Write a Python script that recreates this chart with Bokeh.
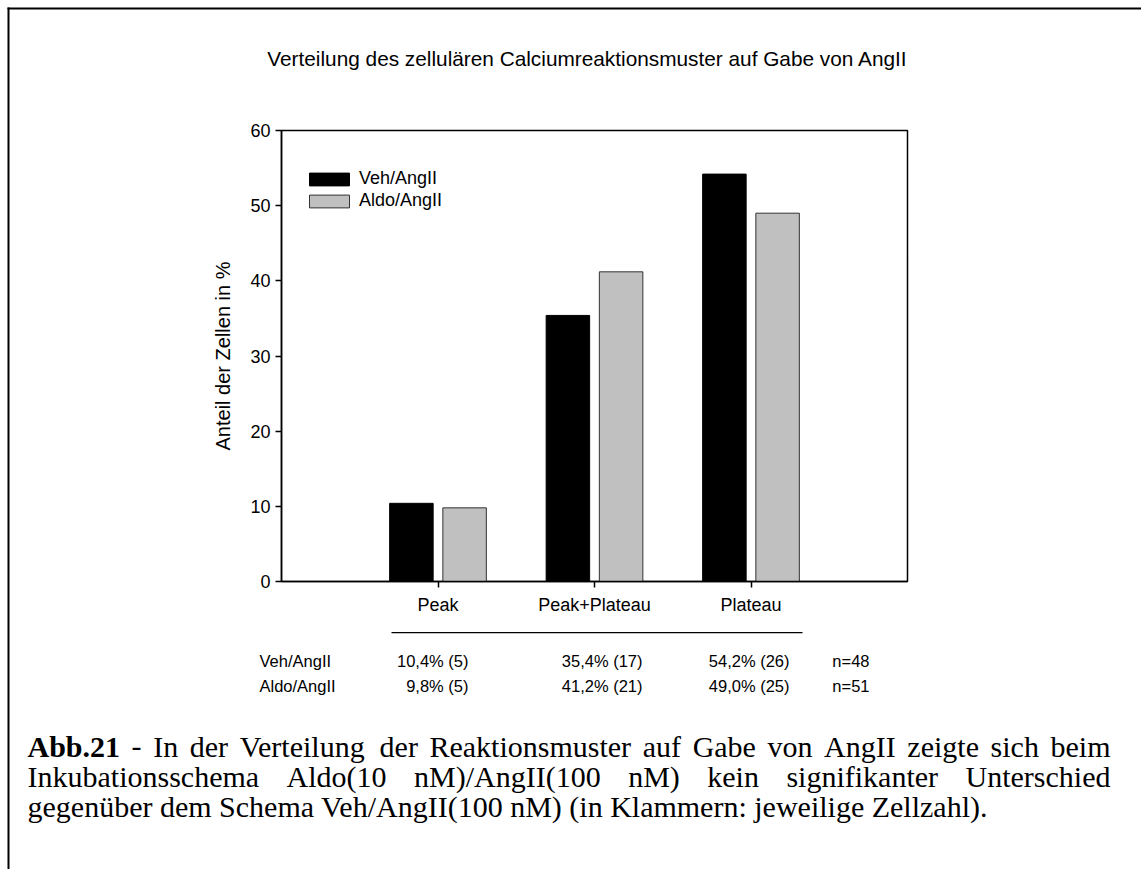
from bokeh.plotting import figure
from bokeh.models import Label, PolyAnnotation, FixedTicker, Range1d, LinearAxis
from bokeh.embed import file_html
from bokeh.resources import INLINE

# ---------------- data ----------------
categories = ["Peak", "Peak+Plateau", "Plateau"]
groups = ["Veh/AngII", "Aldo/AngII"]
veh_pct = [10.4, 35.4, 54.2]
aldo_pct = [9.8, 41.2, 49.0]
veh_cells = [5, 17, 26]
aldo_cells = [5, 21, 25]
totals = [48, 51]
y_ticks = [0, 10, 20, 30, 40, 50, 60]

title_text = "Verteilung des zellulären Calciumreaktionsmuster auf Gabe von AngII"
y_label = "Anteil der Zellen in %"
caption_bold = "Abb.21"
caption_line1 = "- In der Verteilung der Reaktionsmuster auf Gabe von AngII zeigte sich beim"
caption_line2 = "Inkubationsschema Aldo(10 nM)/AngII(100 nM) kein signifikanter Unterschied"
caption_line3 = "gegenüber dem Schema Veh/AngII(100 nM) (in Klammern: jeweilige Zellzahl)."

SANS = "Liberation Sans"
SERIF = "Liberation Serif"

W, H = 1141, 869
FL, FR, FT, FB = 281, 907, 130, 581   # chart box edges in px
XMAX, YMAX = 4, 60

def dx(px):
    return (px - FL) * XMAX / (FR - FL)

def dy(py):
    return (FB - py) * YMAX / (FB - FT)

p = figure(width=W, height=H, x_range=Range1d(dx(0), dx(W)), y_range=Range1d(dy(H), dy(0)),
           output_backend="svg", toolbar_location=None, title=None,
           x_axis_type=None, y_axis_type=None, min_border=0)
p.background_fill_color = "white"
p.border_fill_color = "white"
p.outline_line_color = None
p.grid.visible = False

# ---------------- chart box ----------------
p.quad(left=0, right=XMAX, bottom=0, top=YMAX, fill_color=None,
       line_color="black", line_width=1.5)

# ---------------- bars ----------------
xpos = [i + 1 for i in range(len(categories))]
off = 0.17
bw = 0.278
p.vbar(x=[x - off for x in xpos], top=veh_pct, width=bw, bottom=0,
       fill_color="black", line_color="black", line_width=1, legend_label=groups[0])
p.vbar(x=[x + off for x in xpos], top=aldo_pct, width=bw, bottom=0,
       fill_color="#c0c0c0", line_color="#333333", line_width=1, legend_label=groups[1])

# ---------------- axes ----------------
yax = LinearAxis(fixed_location=0, bounds=(0, YMAX), ticker=FixedTicker(ticks=y_ticks))
xax = LinearAxis(fixed_location=0, bounds=(0, XMAX), ticker=FixedTicker(ticks=xpos))
for ax in (xax, yax):
    ax.axis_line_width = 1.5
    ax.axis_line_color = "black"
    ax.major_tick_line_color = "black"
    ax.major_tick_line_width = 1.5
    ax.major_tick_out = 6
    ax.major_tick_in = 0
    ax.minor_tick_line_color = None
    ax.major_label_text_font = SANS
    ax.major_label_text_font_size = "18px"
    ax.major_label_text_color = "black"
yax.major_label_standoff = 5
yax.axis_label = y_label
yax.axis_label_text_font = SANS
yax.axis_label_text_font_size = "20px"
yax.axis_label_text_font_style = "normal"
yax.axis_label_text_color = "black"
yax.axis_label_standoff = 13
xax.major_label_overrides = {x: c for x, c in zip(xpos, categories)}
xax.major_label_standoff = 7
p.add_layout(yax, "left")
p.add_layout(xax, "below")

# ---------------- legend ----------------
lg = p.legend[0]
lg.location = (304, 658)
lg.padding = 0
lg.margin = 0
lg.spacing = 1
lg.glyph_width = 50
lg.glyph_height = 16
lg.label_standoff = 5
lg.label_text_font = SANS
lg.label_text_font_size = "18px"
lg.label_text_color = "black"
lg.border_line_alpha = 0
lg.background_fill_alpha = 0

# ---------------- title ----------------
p.add_layout(Label(x=dx(587), y=dy(58), text=title_text, text_align="center",
                   text_baseline="middle", text_font=SANS, text_font_size="20.8px",
                   text_color="black"))

# ---------------- table below the chart ----------------
p.add_layout(PolyAnnotation(xs=[dx(391), dx(802), dx(802), dx(391)],
                            ys=[dy(631.5), dy(631.5), dy(632.8), dy(632.8)],
                            fill_color="black", fill_alpha=1, line_alpha=0))

def fmt(v, c):
    return f"{v:.1f}".replace(".", ",") + f"% ({c})"

row_y = [660, 685]
col_right = [468, 642, 789, 869]
TAB = "16.5px"
for r, (name, pct, cells, tot) in enumerate(zip(groups, [veh_pct, aldo_pct],
                                               [veh_cells, aldo_cells], totals)):
    p.add_layout(Label(x=dx(259), y=dy(row_y[r]), text=name, text_align="left",
                       text_baseline="middle", text_font=SANS, text_font_size=TAB,
                       text_color="black"))
    for j, (v, c) in enumerate(zip(pct, cells)):
        p.add_layout(Label(x=dx(col_right[j]), y=dy(row_y[r]), text=fmt(v, c),
                           text_align="right", text_baseline="middle", text_font=SANS,
                           text_font_size=TAB, text_color="black"))
    p.add_layout(Label(x=dx(col_right[3]), y=dy(row_y[r]), text=f"n={tot}",
                       text_align="right", text_baseline="middle", text_font=SANS,
                       text_font_size=TAB, text_color="black"))

# ---------------- caption (justified like the source page) ----------------
_R = {' ': 250, '-': 333, '(': 333, ')': 333, '.': 250, '/': 278, ':': 278, ',': 250,
      '%': 833, '+': 564, '=': 564}
_R.update({d: 500 for d in "0123456789"})
_R.update(dict(zip("ABCDEFGHIJKLMNOPQRSTUVWXYZ",
                   [722, 667, 667, 722, 611, 556, 722, 722, 333, 389, 722, 611, 889, 722,
                    722, 556, 722, 667, 556, 611, 722, 722, 944, 722, 722, 611])))
_R.update(dict(zip("abcdefghijklmnopqrstuvwxyz",
                   [444, 500, 444, 500, 444, 333, 500, 500, 278, 278, 500, 278, 778, 500,
                    500, 500, 500, 333, 389, 278, 500, 500, 722, 500, 500, 444])))
_R.update({'ä': 444, 'ö': 500, 'ü': 500})
_B = dict(_R)
_B.update({'A': 722, 'b': 556})

def text_w(s, size, bold=False):
    t = _B if bold else _R
    return sum(t.get(ch, 500) for ch in s) * size / 1000.0

CAPSZ = 30
CAP = f"{CAPSZ}px"
X_L, X_R = 27, 1110
base = [746, 776, 806]

def justified(words, bold_first, py):
    widths = [text_w(w, CAPSZ, bold_first and i == 0) for i, w in enumerate(words)]
    gap = (X_R - X_L - sum(widths)) / (len(words) - 1)
    x = X_L
    for i, (w, wd) in enumerate(zip(words, widths)):
        last = i == len(words) - 1
        p.add_layout(Label(x=dx(X_R if last else x), y=dy(py), text=w,
                           text_align="right" if last else "left",
                           text_baseline="alphabetic", text_font=SERIF,
                           text_font_size=CAP,
                           text_font_style="bold" if (bold_first and i == 0) else "normal",
                           text_color="black"))
        x += wd + gap

justified([caption_bold] + caption_line1.split(" "), True, base[0])
justified(caption_line2.split(" "), False, base[1])
p.add_layout(Label(x=dx(X_L), y=dy(base[2]), text=caption_line3, text_align="left",
                   text_baseline="alphabetic", text_font=SERIF, text_font_size=CAP,
                   text_color="black"))

# ---------------- page frame (top & left rule) ----------------
p.add_layout(PolyAnnotation(xs=[dx(7), dx(9), dx(9), dx(7)],
                            ys=[dy(7), dy(7), dy(H + 5), dy(H + 5)],
                            fill_color="black", fill_alpha=1, line_alpha=0))
p.add_layout(PolyAnnotation(xs=[dx(7), dx(W + 5), dx(W + 5), dx(7)],
                            ys=[dy(7), dy(7), dy(9), dy(9)],
                            fill_color="black", fill_alpha=1, line_alpha=0))

open("out.html", "w").write(file_html(p, INLINE))
